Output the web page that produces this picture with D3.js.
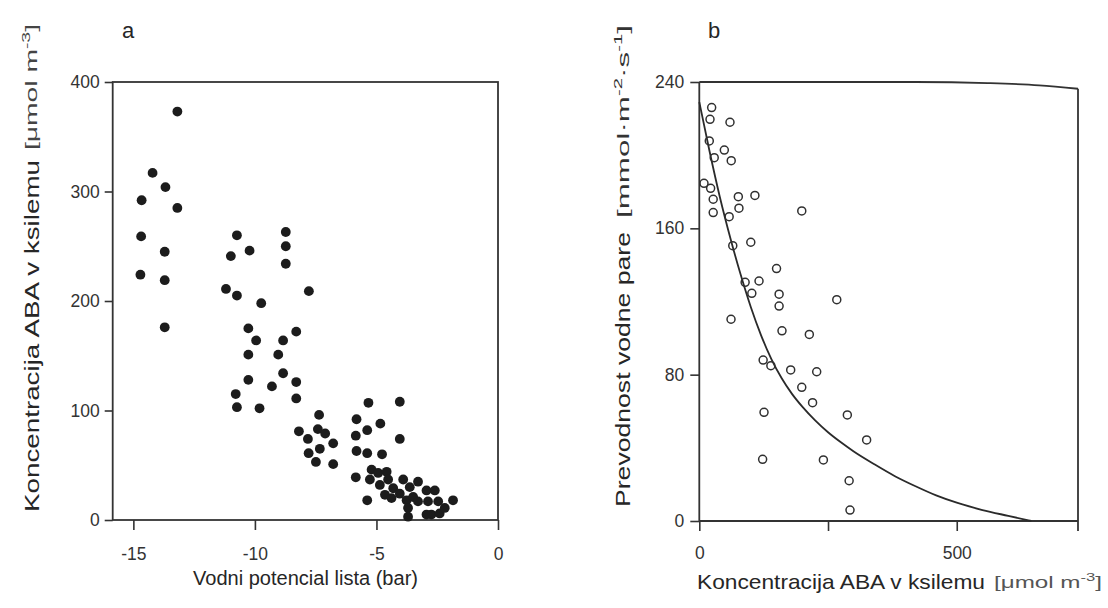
<!DOCTYPE html>
<html><head><meta charset="utf-8">
<script src="https://cdn.jsdelivr.net/npm/d3@7"></script>
<style>body{margin:0;background:#fff}</style>
</head><body><svg id="c" width="1108" height="608"></svg>
<script>
// Panel a: leaf water potential (bar) vs xylem ABA concentration
const aWater = [-13.19,-14.21,-13.68,-14.66,-13.19,-14.68,-13.71,-14.71,-13.71,-13.71,
  -10.74,-10.99,-10.22,-11.19,-10.74,-9.74,-10.27,-9.95,-10.27,-10.27,-10.79,-10.74,-9.81,-9.30,
  -8.73,-8.73,-8.73,-7.78,-8.84,-8.30,-9.04,-8.84,-8.30,-8.30,
  -8.19,-7.82,-7.36,-7.41,-7.11,-6.78,-7.33,-7.79,-7.49,-6.78,
  -5.33,-4.04,-5.82,-4.84,-5.38,-5.85,-4.04,-5.82,-5.38,-4.77,-5.85,-5.38,
  -5.20,-5.27,-4.93,-4.58,-4.86,-4.52,-4.65,-4.31,-4.38,-4.04,-3.90,-3.63,-3.29,-3.76,
  -3.49,-3.70,-3.70,-3.29,-2.94,-2.60,-2.88,-2.74,-2.46,-2.40,-2.19,-1.85,-2.94];
const aABA = [373,317,304,292,285,259,245,224,219,176,
  260,241,246,211,205,198,175,164,151,128,115,103,102,122,
  263,250,234,209,164,172,151,134,126,111,
  81,74,96,83,79,70,65,61,53,51,
  107,108,92,88,82,77,74,63,61,60,39,18,
  46,37,43,44,32,37,23,29,20,24,37,30,35,18,
  21,11,3,17,27,27,17,5,17,6,11,18,5];
const aXTicks = [-15,-10,-5,0];
const aYTicks = [0,100,200,300,400];

// Panel b: xylem ABA concentration vs stomatal conductance
const bABA = [24,20.8,59.6,19.4,48.6,29,62,9.1,22,27,27,75.8,77,108,58,199,65,100,150,89,116,102,155,267,
  155,61.6,160.6,213.7,124,139,177.5,228,199,220,125.7,287.5,325,123,241,291,292.7];
const bCond = [226,219.6,218,207.8,202.8,198.6,197,184.6,181.9,175.9,168.6,177.3,171,178,166.4,169.5,150.5,152.4,138,130.5,131.2,124.5,124,121,
  117.5,110.3,104,102,88,84.9,82.6,81.6,73.1,64.7,59.4,58,44.3,33.7,33.4,22,6];
const bFitX = [0,20,40,60,80,100,120,140,160,180,200,225,250,275,300,340,380,420,460,500,550,600,645];
const bFitY = [229,202,177,155,135,117,101.5,88.5,78,69.5,62.5,55,48.5,43,38,31,24.5,19,14,10,6,2.8,0];
const bXTicks = [0,250,500];
const bYTicks = [0,80,160,240];

const svg = d3.select('#c');
const FONT = '"Liberation Sans", Arial, Helvetica, sans-serif';
const INK = '#262626';

// ---------- Panel a ----------
const xa = d3.scaleLinear().domain([-15.85, 0]).range([112.7, 498]);
const ya = d3.scaleLinear().domain([0, 400]).range([520, 82]);
const ga = svg.append('g');

ga.append('rect').attr('x', xa.range()[0]).attr('y', ya(400))
  .attr('width', xa.range()[1]-xa.range()[0]).attr('height', ya(0)-ya(400))
  .attr('fill','none').attr('stroke','#333').attr('stroke-width',1.8);

const axA = ga.append('g').attr('transform',`translate(0,${ya(0)})`)
  .call(d3.axisBottom(xa).tickValues(aXTicks).tickSize(10).tickPadding(18).tickFormat(d=>String(d)));
const ayA = ga.append('g').attr('transform',`translate(${xa.range()[0]},0)`)
  .call(d3.axisLeft(ya).tickValues(aYTicks).tickSize(8).tickPadding(5).tickFormat(d=>String(d)));
[axA, ayA].forEach(a => {
  a.select('.domain').remove();
  a.selectAll('line').attr('stroke','#333').attr('stroke-width',1.6);
  a.selectAll('text').attr('font-family',FONT).attr('font-size',17.5).attr('fill','#333');
});

ga.selectAll('circle.dot').data(aWater.map((w,i)=>[w,aABA[i]])).join('circle')
  .attr('class','dot').attr('cx',d=>xa(d[0])).attr('cy',d=>ya(d[1])).attr('r',4.9).attr('fill','#1c1c1c');

ga.append('text').attr('x',122).attr('y',38).attr('font-family',FONT).attr('font-size',22).attr('fill',INK).text('a');

ga.append('text').attr('x',193).attr('y',585).attr('font-family',FONT).attr('font-size',20)
  .attr('fill',INK).attr('textLength',225).attr('lengthAdjust','spacingAndGlyphs').text('Vodni potencial lista (bar)');

ga.append('text').attr('transform','translate(39,512) rotate(-90)').attr('font-family',FONT).attr('font-size',21)
  .attr('fill',INK).attr('textLength',352).attr('lengthAdjust','spacingAndGlyphs').text('Koncentracija ABA v ksilemu');
const ta = ga.append('text').attr('transform','translate(37,150) rotate(-90)').attr('font-family',FONT).attr('font-size',16)
  .attr('fill','#444').attr('textLength',126).attr('lengthAdjust','spacingAndGlyphs');
ta.append('tspan').text('[μmol m');
ta.append('tspan').attr('dy',-7).attr('font-size',11).text('-3');
ta.append('tspan').attr('dy',7).text(']');

// ---------- Panel b ----------
const xb = d3.scaleLinear().domain([0, 735.5]).range([699.3, 1078]);
const yb = d3.scaleLinear().domain([0, 240]).range([521, 82]);
const gb = svg.append('g');

// frame: left, bottom, right (with tick below) and slightly sagging top edge
gb.append('path').attr('fill','none').attr('stroke','#333').attr('stroke-width',1.8)
  .attr('d',`M${xb(0)},${yb(240)}V${yb(0)}H${xb(735.5)}M${xb(735.5)},${yb(0)+10}V${yb(236.3)}`);
const topEdge = [[0,240],[420,240],[560,239.4],[660,238.2],[735.5,236.3]];
gb.append('path').datum(topEdge).attr('fill','none').attr('stroke','#333').attr('stroke-width',1.8)
  .attr('d', d3.line().x(d=>xb(d[0])).y(d=>yb(d[1])).curve(d3.curveMonotoneX));

const axB = gb.append('g').attr('transform',`translate(0,${yb(0)})`)
  .call(d3.axisBottom(xb).tickValues(bXTicks).tickSize(10).tickPadding(16).tickFormat(d=> d===250 ? '' : String(d)));
const ayB = gb.append('g').attr('transform',`translate(${xb(0)},0)`)
  .call(d3.axisLeft(yb).tickValues(bYTicks).tickSize(9).tickPadding(6).tickFormat(d=>String(d)));
[axB, ayB].forEach(a => {
  a.select('.domain').remove();
  a.selectAll('line').attr('stroke','#333').attr('stroke-width',1.6);
  a.selectAll('text').attr('font-family',FONT).attr('font-size',17.5).attr('fill','#333');
});

gb.append('path').datum(bFitX.map((x,i)=>[x,bFitY[i]])).attr('fill','none').attr('stroke','#2a2a2a').attr('stroke-width',1.8)
  .attr('d', d3.line().x(d=>xb(d[0])).y(d=>yb(d[1])).curve(d3.curveMonotoneX));

gb.selectAll('circle.pt').data(bABA.map((x,i)=>[x,bCond[i]])).join('circle')
  .attr('class','pt').attr('cx',d=>xb(d[0])).attr('cy',d=>yb(d[1])).attr('r',4)
  .attr('fill','none').attr('stroke','#303030').attr('stroke-width',1.5);

gb.append('text').attr('x',708).attr('y',38).attr('font-family',FONT).attr('font-size',22).attr('fill',INK).text('b');

gb.append('text').attr('x',697).attr('y',589).attr('font-family',FONT).attr('font-size',21)
  .attr('fill',INK).attr('textLength',288).attr('lengthAdjust','spacingAndGlyphs').text('Koncentracija ABA v ksilemu');
const tb = gb.append('text').attr('x',994).attr('y',588).attr('font-family',FONT).attr('font-size',16)
  .attr('fill','#555').attr('textLength',108).attr('lengthAdjust','spacingAndGlyphs');
tb.append('tspan').text('[μmol m');
tb.append('tspan').attr('dy',-7).attr('font-size',11).text('-3');
tb.append('tspan').attr('dy',7).text(']');

gb.append('text').attr('transform','translate(630,507) rotate(-90)').attr('font-family',FONT).attr('font-size',21)
  .attr('fill',INK).attr('textLength',275).attr('lengthAdjust','spacingAndGlyphs').text('Prevodnost vodne pare');
const tc = gb.append('text').attr('transform','translate(629,218) rotate(-90)').attr('font-family',FONT).attr('font-size',17)
  .attr('fill','#333').attr('textLength',193).attr('lengthAdjust','spacingAndGlyphs');
tc.append('tspan').text('[mmol·m');
tc.append('tspan').attr('dy',-7).attr('font-size',11).text('-2');
tc.append('tspan').attr('dy',7).text('·s');
tc.append('tspan').attr('dy',-7).attr('font-size',11).text('-1');
tc.append('tspan').attr('dy',7).text(']');
</script></body></html>
